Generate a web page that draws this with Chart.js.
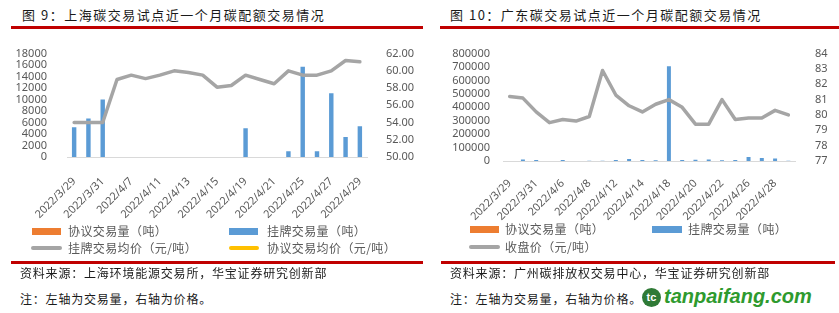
<!DOCTYPE html>
<html>
<head>
<meta charset="utf-8">
<script src="https://cdn.jsdelivr.net/npm/chart.js@4"></script>
<style>
  html, body { margin: 0; padding: 0; background: #fff; }
  body { width: 839px; height: 313px; position: relative; overflow: hidden; font-family: "Noto Sans CJK SC", sans-serif; }
  .abs { position: absolute; }
  .title { font-size: 13px; color: #1a1a1a; letter-spacing: 1.5px; white-space: nowrap; top: 5px; }
  .redline { height: 3px; background: #c00000; }
  .src { font-size: 12px; color: #1a1a1a; letter-spacing: 0.8px; white-space: nowrap; }
  .leg { font-size: 12px; color: #595959; letter-spacing: 0.4px; white-space: nowrap; line-height: 14px; }
  .sw { position: absolute; }
  canvas { position: absolute; }
  .logo { font-family: "Liberation Sans", Arial, sans-serif; font-weight: bold; font-style: italic; font-size: 20px; color: #2e9a2e; white-space: nowrap; }
  .logoicon { width: 19px; height: 19px; border-radius: 50%; background: #2f7a36; color: #fff; font: bold 11px "Liberation Sans", sans-serif; text-align: center; line-height: 19px; }
</style>
</head>
<body>
<div class="abs title" style="left:22px;">图 9：上海碳交易试点近一个月碳配额交易情况</div>
<div class="abs redline" style="left:11px; top:26px; width:412px;"></div>
<div class="abs title" style="left:450px;">图 10：广东碳交易试点近一个月碳配额交易情况</div>
<div class="abs redline" style="left:440px; top:26px; width:399px;"></div>

<canvas id="shChart" width="420" height="190" style="left:0; top:35px;"></canvas>
<canvas id="gdChart" width="419" height="190" style="left:420px; top:35px;"></canvas>

<!-- legend, left -->
<div class="sw" style="left:32px; top:228px; width:29px; height:7px; background:#ed7d31;"></div>
<div class="abs leg" style="left:68px; top:224px;">协议交易量（吨）</div>
<div class="sw" style="left:229px; top:228px; width:29px; height:7px; background:#5b9bd5;"></div>
<div class="abs leg" style="left:267px; top:224px;">挂牌交易量（吨）</div>
<div class="sw" style="left:31px; top:246px; width:31px; height:4px; border-radius:2px; background:#a5a5a5;"></div>
<div class="abs leg" style="left:68px; top:241px;">挂牌交易均价（元/吨）</div>
<div class="sw" style="left:229px; top:246px; width:30px; height:4px; border-radius:2px; background:#ffc000;"></div>
<div class="abs leg" style="left:267px; top:241px;">协议交易均价（元/吨）</div>

<!-- legend, right -->
<div class="sw" style="left:470px; top:226px; width:29px; height:7px; background:#ed7d31;"></div>
<div class="abs leg" style="left:505px; top:222px;">协议交易量（吨）</div>
<div class="sw" style="left:652px; top:226px; width:30px; height:7px; background:#5b9bd5;"></div>
<div class="abs leg" style="left:688px; top:222px;">挂牌交易量（吨）</div>
<div class="sw" style="left:469px; top:245px; width:31px; height:4px; border-radius:2px; background:#a5a5a5;"></div>
<div class="abs leg" style="left:505px; top:240px;">收盘价（元/吨）</div>

<div class="abs redline" style="left:11px; top:261px; width:412px;"></div>
<div class="abs redline" style="left:441px; top:261px; width:394px;"></div>
<div class="abs src" style="left:20px; top:264px;">资料来源：上海环境能源交易所，华宝证券研究创新部</div>
<div class="abs src" style="left:20px; top:290px;">注：左轴为交易量，右轴为价格。</div>
<div class="abs src" style="left:450px; top:264px;">资料来源：广州碳排放权交易中心，华宝证券研究创新部</div>
<div class="abs src" style="left:450px; top:290px;">注：左轴为交易量，右轴为价格。</div>
<div class="abs logoicon" style="left:642px; top:288px;">tc</div>
<div class="abs logo" style="left:664px; top:285px;">tanpaifang.com</div>

<script>
// 上海
const shDates = ['2022/3/29','2022/3/30','2022/3/31','2022/4/1','2022/4/7','2022/4/8','2022/4/11','2022/4/12','2022/4/13','2022/4/14','2022/4/15','2022/4/18','2022/4/19','2022/4/20','2022/4/21','2022/4/22','2022/4/25','2022/4/26','2022/4/27','2022/4/28','2022/4/29']
const shAgreeVol = shDates.map(() => null)
const shListedVol = [5200, 6700, 10000, null, null, null, null, null, null, null, null, null, 5000, null, null, 1000, 15700, 1000, 11100, 3500, 5350]
const shListedPrice = [54.0, 54.0, 54.0, 59.0, 59.5, 59.1, 59.5, 60.0, 59.8, 59.5, 58.1, 58.3, 59.5, 59.0, 58.5, 60.0, 59.5, 59.5, 60.0, 61.2, 61.05]
const shAgreePrice = shDates.map(() => null)

// 广东
const gdDates = ['2022/3/29','2022/3/30','2022/3/31','2022/4/1','2022/4/6','2022/4/7','2022/4/8','2022/4/11','2022/4/12','2022/4/13','2022/4/14','2022/4/15','2022/4/18','2022/4/19','2022/4/20','2022/4/21','2022/4/22','2022/4/25','2022/4/26','2022/4/27','2022/4/28','2022/4/29']
const gdAgreeVol = gdDates.map(() => null)
const gdListedVol = [0, 12000, 8000, 0, 8000, 0, 1000, 1000, 8000, 15000, 8000, 5000, 705000, 8000, 10000, 12000, 6000, 7000, 30000, 22000, 18000, 1500]
const gdClose = [81.2, 81.1, 80.2, 79.5, 79.7, 79.6, 79.9, 82.9, 81.3, 80.6, 80.2, 80.7, 81.0, 80.5, 79.4, 79.4, 81.0, 79.7, 79.8, 79.8, 80.3, 80.0]

Chart.defaults.font.family = "'Noto Sans', sans-serif"
Chart.defaults.font.size = 11
Chart.defaults.color = '#595959'

function barSet(label, data, color, barPct) {
	return { type: 'bar', label: label, data: data, backgroundColor: color, yAxisID: 'y', order: 2,
		categoryPercentage: 1, barPercentage: barPct, skipNull: true }
}
function lineSet(label, data, color) {
	return { type: 'line', label: label, data: data, borderColor: color, backgroundColor: color,
		borderWidth: 3.5, pointRadius: 0, tension: 0, yAxisID: 'y1', order: 0,
		borderCapStyle: 'round', borderJoinStyle: 'round' }
}
function fixW(w) { return function (scale) { scale.width = w } }
function fixH(h) { return function (scale) { scale.height = h } }

function makeOptions(cfg) {
	return {
		responsive: false,
		animation: false,
		devicePixelRatio: 1,
		layout: { padding: { top: cfg.top, left: 0, right: 0, bottom: 0 } },
		plugins: { legend: { display: false }, tooltip: { enabled: false } },
		scales: {
			x: {
				offset: true,
				grid: { display: false },
				border: { display: true, color: '#d9d9d9', width: 1 },
				ticks: {
					autoSkip: false, minRotation: 45, maxRotation: 45, padding: cfg.xPad,
					callback: function (v, i) { return i % 2 === 0 ? this.getLabelForValue(v) : '' }
				},
				afterFit: fixH(cfg.xH)
			},
			y: {
				position: 'left',
				min: cfg.yMin, max: cfg.yMax,
				grid: { display: false },
				border: { display: false },
				ticks: { autoSkip: false, stepSize: cfg.yStep, padding: cfg.yPad, callback: v => String(v) },
				afterFit: fixW(cfg.yW)
			},
			y1: {
				position: 'right',
				min: cfg.y1Min, max: cfg.y1Max,
				grid: { display: false },
				border: { display: false },
				ticks: { autoSkip: false, stepSize: cfg.y1Step, padding: cfg.y1Pad, callback: v => v.toFixed(cfg.y1Dec) },
				afterFit: fixW(cfg.y1W)
			}
		}
	}
}

new Chart(document.getElementById('shChart'), {
	data: {
		labels: shDates,
		datasets: [
			lineSet('挂牌交易均价（元/吨）', shListedPrice, '#a5a5a5'),
			lineSet('协议交易均价（元/吨）', shAgreePrice, '#ffc000'),
			barSet('协议交易量（吨）', shAgreeVol, '#ed7d31', 0.31),
			barSet('挂牌交易量（吨）', shListedVol, '#5b9bd5', 0.31)
		]
	},
	options: makeOptions({ top: 11, xH: 68, xPad: 10, yMin: 0, yMax: 18000, yStep: 2000, yW: 67, yPad: 12,
		y1Min: 50, y1Max: 62, y1Step: 2, y1W: 53, y1Pad: 11, y1Dec: 2 })
})

new Chart(document.getElementById('gdChart'), {
	data: {
		labels: gdDates,
		datasets: [
			lineSet('收盘价（元/吨）', gdClose, '#a5a5a5'),
			barSet('协议交易量（吨）', gdAgreeVol, '#ed7d31', 0.3),
			barSet('挂牌交易量（吨）', gdListedVol, '#5b9bd5', 0.3)
		]
	},
	options: makeOptions({ top: 11, xH: 64, xPad: 8, yMin: 0, yMax: 800000, yStep: 100000, yW: 83, yPad: 5,
		y1Min: 77, y1Max: 84, y1Step: 1, y1W: 44, y1Pad: 12, y1Dec: 0 })
})
</script>
</body>
</html>
